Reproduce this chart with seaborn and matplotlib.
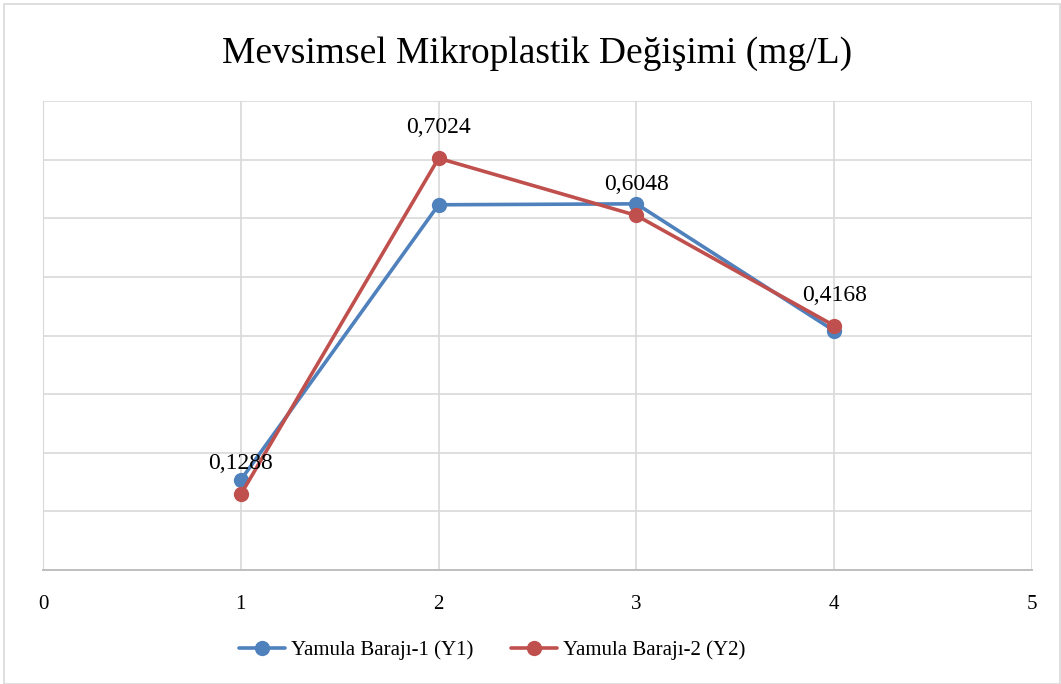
import pandas as pd
import seaborn as sns
import matplotlib.pyplot as plt
from matplotlib.patches import Rectangle

# Values
seasons = [1, 2, 3, 4]
y1_values = [0.1536, 0.6230, 0.6246, 0.4080]
y2_values = [0.1288, 0.7024, 0.6048, 0.4168]
series_names = ['Yamula Barajı-1 (Y1)', 'Yamula Barajı-2 (Y2)']
x_ticks = [0, 1, 2, 3, 4, 5]

df = pd.DataFrame({
    'x': seasons * 2,
    'value': y1_values + y2_values,
    'series': [series_names[0]] * 4 + [series_names[1]] * 4,
})

sns.set_style('white')
plt.rcParams['font.family'] = ['Liberation Serif', 'DejaVu Serif']
plt.rcParams['text.color'] = 'black'
plt.rcParams['xtick.color'] = 'black'

fig = plt.figure(figsize=(10.61, 6.84), dpi=100)
ax = fig.add_axes([0.0405, 0.1667, 0.9322, 0.6856])

# Chart border
fig.patches.append(Rectangle((4 / 1061, 0), 1 - 4 / 1061 - 0.0005, 1 - 4 / 684,
                             transform=fig.transFigure, fill=False,
                             edgecolor='#D9D9D9', linewidth=1.2))

sns.lineplot(
    data=df, x='x', y='value', hue='series',
    palette=['#4F81BD', '#C0504D'],
    marker='o', markersize=11, markeredgewidth=0,
    linewidth=2.6, ax=ax, legend=True
)

# Data labels for Y2
for xv, yv in zip(seasons, y2_values):
    ax.annotate(f'{yv:.4f}'.replace('.', ','), (xv, yv),
                xytext=(0, 22), textcoords='offset points',
                ha='center', va='center', fontsize=17)

ax.set_xlim(0, 5)
ax.set_ylim(0, 0.8)
ax.set_xticks(x_ticks)
ax.set_yticks([i / 10 for i in range(9)])
ax.set_yticklabels([])
ax.tick_params(axis='x', length=0, pad=18, labelsize=15)
ax.tick_params(axis='y', length=0)
ax.grid(True, color='#D9D9D9', linewidth=1.2)
ax.set_axisbelow(True)
ax.set_xlabel('')
ax.set_ylabel('')
for side in ['top', 'right']:
    ax.spines[side].set_visible(False)
ax.spines['left'].set_color('#D9D9D9')
ax.spines['bottom'].set_color('#BFBFBF')
ax.spines['bottom'].set_linewidth(1.4)

fig.text(0.506, 0.922, 'Mevsimsel Mikroplastik Değişimi (mg/L)',
         ha='center', va='center', fontsize=27)

handles, labels = ax.get_legend_handles_labels()
ax.legend(handles, labels, loc='center', bbox_to_anchor=(0.464, 0.0497),
          bbox_transform=fig.transFigure, ncol=2, frameon=False,
          fontsize=15, handlelength=2.2, columnspacing=1.8, handletextpad=0.3)

fig.savefig('out.png', dpi=100)
